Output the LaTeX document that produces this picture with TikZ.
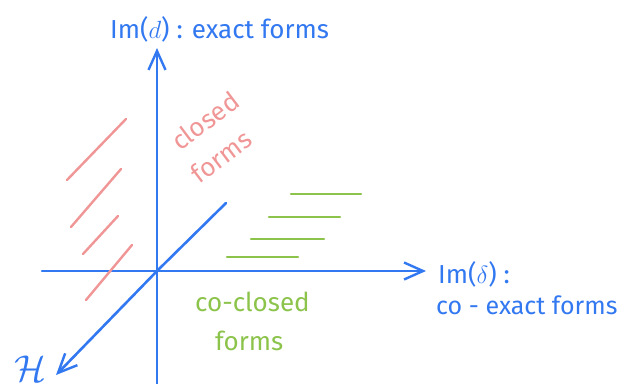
\documentclass[tikz,border=0pt]{standalone}
\usepackage{fontspec}
\setmainfont{Fira Sans}
\usetikzlibrary{arrows.meta}
\definecolor{ablue}{RGB}{50,120,240}
\definecolor{ared}{RGB}{240,150,150}
\definecolor{agreen}{RGB}{140,195,75}
\tikzset{
  axis/.style={ablue, line width=2.6pt, line cap=round},
  tip/.style={-{Straight Barb[length=19pt,width=17pt,line width=2.4pt]}},
  hatchr/.style={ared, line width=2.4pt, line cap=round},
  hatchg/.style={agreen, line width=2.4pt, line cap=round},
  lbl/.style={inner sep=0pt, font=\fontsize{26}{30}\selectfont},
}
\begin{document}
\begin{tikzpicture}[x=1pt,y=-1pt]
\useasboundingbox (0,0) rectangle (624,383);
\coordinate (O) at (157,271);
\coordinate (ytop) at (157,48);
\coordinate (ybot) at (157,385);
\coordinate (xl) at (42,271);
\coordinate (xr) at (426,271);
\coordinate (dtr) at (226,203);
\coordinate (dbl) at (56,375);
% axes
\draw[axis] (ybot) -- (O);
\draw[axis, tip] (O) -- (ytop);
\draw[axis] (xl) -- (O);
\draw[axis, tip] (O) -- (xr);
\draw[axis] (dtr) -- (O);
\draw[axis, tip] (O) -- (dbl);
% red hatching
\coordinate (r1a) at (126,119); \coordinate (r1b) at (67,180);
\coordinate (r2a) at (121,169); \coordinate (r2b) at (71,227);
\coordinate (r3a) at (118,216); \coordinate (r3b) at (83,254);
\coordinate (r4a) at (132,245); \coordinate (r4b) at (86,300);
\draw[hatchr] (r1a) -- (r1b);
\draw[hatchr] (r2a) -- (r2b);
\draw[hatchr] (r3a) -- (r3b);
\draw[hatchr] (r4a) -- (r4b);
% green hatching
\coordinate (g1a) at (291,194); \coordinate (g1b) at (361,194);
\coordinate (g2a) at (269,217); \coordinate (g2b) at (340,217);
\coordinate (g3a) at (251,239); \coordinate (g3b) at (324,239);
\coordinate (g4a) at (227,257); \coordinate (g4b) at (298,257);
\draw[hatchg] (g1a) -- (g1b);
\draw[hatchg] (g2a) -- (g2b);
\draw[hatchg] (g3a) -- (g3b);
\draw[hatchg] (g4a) -- (g4b);
% labels
\node[lbl, ablue, anchor=base west] (imd) at (110,38) {Im($d$) : exact forms};
\node[lbl, ablue, anchor=base west] (imdelta) at (438,283) {Im($\delta$) :};
\node[lbl, ablue, anchor=base west, font=\fontsize{25}{30}\selectfont] (coex) at (436,314) {co - exact forms};
\node[lbl, agreen, anchor=base west] (cocl) at (195,311) {co-closed};
\node[lbl, agreen, anchor=base west] (cofo) at (215,350) {forms};
\node[lbl, ared, rotate=37, anchor=north west, align=left, font=\fontsize{26}{38}\selectfont] (cl) at (168,136) {closed\\\hspace*{-4pt}forms};
\node[lbl, ablue, anchor=base west, scale=1.5] (H) at (14,381) {$\mathcal{H}$};
\end{tikzpicture}
\end{document}
